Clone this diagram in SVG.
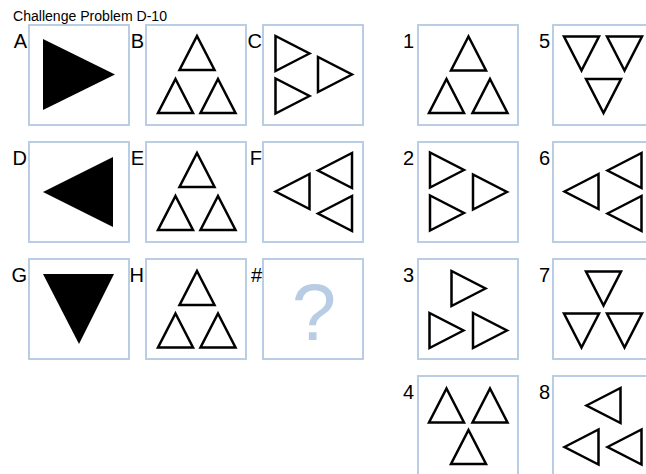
<svg xmlns="http://www.w3.org/2000/svg" xmlns:xlink="http://www.w3.org/1999/xlink" width="646" height="474" viewBox="0 0 646 474">
<style>
.box{fill:#ffffff;stroke:#b9cde5;stroke-width:2}
.lbl{font-family:"Liberation Sans Narrow","Liberation Sans",Arial,sans-serif;font-size:20px;fill:#000;text-anchor:end;stroke:none}
.tri{fill:none;stroke:#000;stroke-width:2.5;stroke-linejoin:miter}
.solid{fill:#000;stroke:none}
</style>
<defs>
<path id="up" d="M0,-17 L17.5,17 L-17.5,17 Z"/>
<use id="rt" xlink:href="#up" href="#up" transform="rotate(90)"/>
<use id="lf" xlink:href="#up" href="#up" transform="rotate(-90)"/>
<use id="dn" xlink:href="#up" href="#up" transform="rotate(180)"/>
</defs>
<rect width="646" height="474" fill="#fff"/>
<text x="13" y="21" font-family="Liberation Sans, Arial, sans-serif" font-size="14" textLength="154" lengthAdjust="spacingAndGlyphs">Challenge Problem D-10</text>

<g id="A"><rect class="box" x="29" y="25" width="100" height="100"/><text class="lbl" x="27" y="48">A</text><polygon class="solid" points="43,39 43,110 115,74.5"/></g>
<g id="B" class="tri"><rect class="box" x="146" y="25" width="100" height="100"/><text class="lbl" x="144" y="48">B</text>
<use href="#up" x="197" y="53"/><use href="#up" x="175.5" y="96"/><use href="#up" x="218" y="96"/></g>
<g id="C" class="tri"><rect class="box" x="263" y="25" width="100" height="100"/><text class="lbl" x="262" y="48">C</text>
<g transform="translate(292.5,53.5)"><use href="#rt"/></g><g transform="translate(292.5,96)"><use href="#rt"/></g><g transform="translate(335,74.5)"><use href="#rt"/></g></g>

<g id="D"><rect class="box" x="29" y="142" width="100" height="100"/><text class="lbl" x="27" y="165">D</text><polygon class="solid" points="113,157 113,227 43,192"/></g>
<g id="E" class="tri"><rect class="box" x="146" y="142" width="100" height="100"/><text class="lbl" x="144" y="165">E</text>
<use href="#up" x="197" y="170"/><use href="#up" x="175.5" y="213"/><use href="#up" x="218" y="213"/></g>
<g id="F" class="tri"><rect class="box" x="263" y="142" width="100" height="100"/><text class="lbl" x="262" y="165">F</text>
<g transform="translate(292.5,191.5)"><use href="#lf"/></g><g transform="translate(335,170.5)"><use href="#lf"/></g><g transform="translate(335,213.5)"><use href="#lf"/></g></g>

<g id="G"><rect class="box" x="29" y="259" width="100" height="100"/><text class="lbl" x="27" y="282">G</text><polygon class="solid" points="43,274 114,274 79,344"/></g>
<g id="H" class="tri"><rect class="box" x="146" y="259" width="100" height="100"/><text class="lbl" x="144" y="282">H</text>
<use href="#up" x="197" y="288"/><use href="#up" x="175.5" y="330.5"/><use href="#up" x="218" y="330.5"/></g>
<g id="Q"><rect class="box" x="263" y="259" width="100" height="100"/><text class="lbl" x="262" y="282">#</text>
<text x="314" y="340" font-family="Liberation Sans, Arial, sans-serif" font-size="80" fill="#b8cce4" text-anchor="middle">?</text></g>

<g id="opt1" class="tri"><rect class="box" x="418" y="25" width="100" height="100"/><text class="lbl" x="414" y="48">1</text>
<use href="#up" x="468.5" y="53.5"/><use href="#up" x="446.5" y="96"/><use href="#up" x="490" y="96"/></g>
<g id="opt5" class="tri"><rect class="box" x="553" y="25" width="100" height="100"/><text class="lbl" x="550" y="48">5</text>
<g transform="translate(581.5,53.5)"><use href="#dn"/></g><g transform="translate(624.5,53.5)"><use href="#dn"/></g><g transform="translate(603.5,96)"><use href="#dn"/></g></g>

<g id="opt2" class="tri"><rect class="box" x="418" y="142" width="100" height="100"/><text class="lbl" x="414" y="165">2</text>
<g transform="translate(447,170)"><use href="#rt"/></g><g transform="translate(447,213)"><use href="#rt"/></g><g transform="translate(490,192)"><use href="#rt"/></g></g>
<g id="opt6" class="tri"><rect class="box" x="553" y="142" width="100" height="100"/><text class="lbl" x="550" y="165">6</text>
<g transform="translate(581.5,191.5)"><use href="#lf"/></g><g transform="translate(624.5,170.5)"><use href="#lf"/></g><g transform="translate(624.5,213.5)"><use href="#lf"/></g></g>

<g id="opt3" class="tri"><rect class="box" x="418" y="259" width="100" height="100"/><text class="lbl" x="414" y="282">3</text>
<g transform="translate(468.5,288.5)"><use href="#rt"/></g><g transform="translate(446.5,330.5)"><use href="#rt"/></g><g transform="translate(490,330.5)"><use href="#rt"/></g></g>
<g id="opt7" class="tri"><rect class="box" x="553" y="259" width="100" height="100"/><text class="lbl" x="550" y="282">7</text>
<g transform="translate(603.5,288.5)"><use href="#dn"/></g><g transform="translate(581.5,330.5)"><use href="#dn"/></g><g transform="translate(624.5,330.5)"><use href="#dn"/></g></g>

<g id="opt4" class="tri"><rect class="box" x="418" y="376" width="100" height="100"/><text class="lbl" x="414" y="399">4</text>
<use href="#up" x="446.5" y="405.5"/><use href="#up" x="490" y="405.5"/><use href="#up" x="468.5" y="447"/></g>
<g id="opt8" class="tri"><rect class="box" x="553" y="376" width="100" height="100"/><text class="lbl" x="550" y="399">8</text>
<g transform="translate(603.5,405.5)"><use href="#lf"/></g><g transform="translate(581.5,447)"><use href="#lf"/></g><g transform="translate(624.5,447)"><use href="#lf"/></g></g>
<g id="connectors"/>
</svg>
